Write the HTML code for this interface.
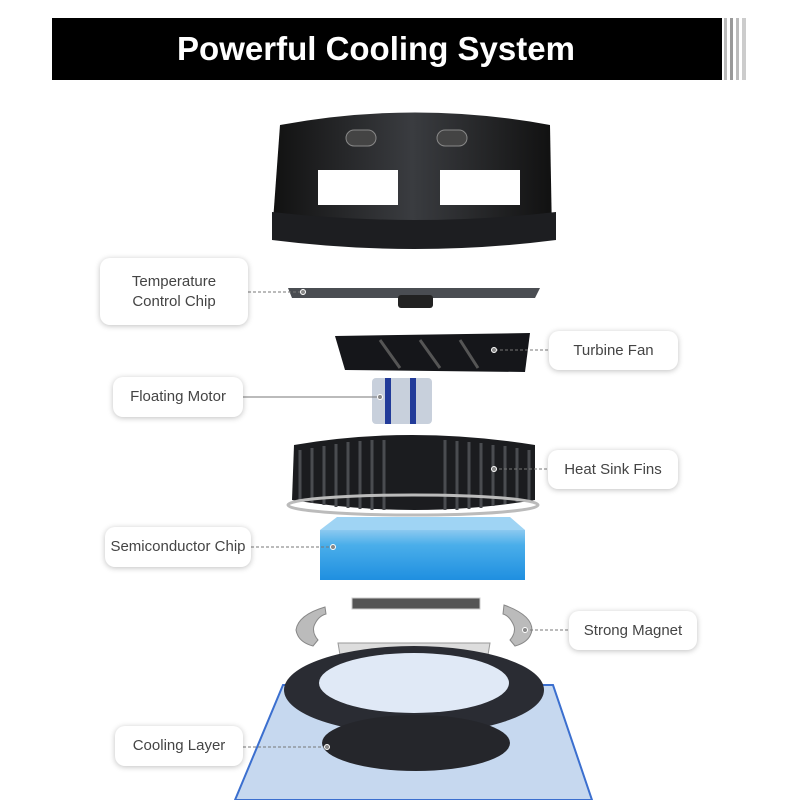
<!DOCTYPE html>
<html><head><style>
body{margin:0;width:800px;height:800px;background:#fff;position:relative;overflow:hidden;font-family:"Liberation Sans",sans-serif}
.lab{position:absolute;background:#fff;border-radius:10px;box-shadow:0 1px 6px rgba(0,0,0,.25);color:#444;font-size:15px;display:flex;align-items:center;justify-content:center;text-align:center;line-height:20px}
</style></head><body>
<div style="position:absolute;left:52px;top:18px;width:670px;height:62px;background:#000;"></div>
<div style="position:absolute;left:52px;top:18px;width:648px;height:62px;color:#fff;font-weight:bold;font-size:33px;display:flex;align-items:center;justify-content:center;">Powerful Cooling System</div>
<div style="position:absolute;left:724px;top:18px;width:3px;height:62px;background:#bbb"></div>
<div style="position:absolute;left:730px;top:18px;width:3px;height:62px;background:#999"></div>
<div style="position:absolute;left:736px;top:18px;width:3px;height:62px;background:#bbb"></div>
<div style="position:absolute;left:742px;top:18px;width:4px;height:62px;background:#ccc"></div>
<svg width="800" height="800" style="position:absolute;left:0;top:0">
<defs>
<linearGradient id="dk" x1="0" x2="1"><stop offset="0" stop-color="#111"/><stop offset=".5" stop-color="#3a3c40"/><stop offset="1" stop-color="#111"/></linearGradient>
<linearGradient id="bl" x1="0" y1="0" x2="0" y2="1"><stop offset="0" stop-color="#8cc9f0"/><stop offset=".3" stop-color="#4aaeea"/><stop offset="1" stop-color="#1f8fe0"/></linearGradient>
</defs>
<!-- housing -->
<path d="M280 125 Q415 100 550 125 L552 235 Q415 255 272 235 Z" fill="url(#dk)"/>
<rect x="318" y="170" width="80" height="35" fill="#fff"/>
<rect x="440" y="170" width="80" height="35" fill="#fff"/>
<rect x="346" y="130" width="30" height="16" rx="8" fill="#444" stroke="#888"/>
<rect x="437" y="130" width="30" height="16" rx="8" fill="#444" stroke="#888"/>
<path d="M272 212 Q415 228 556 212 L556 240 Q415 258 272 240 Z" fill="#1d1e21"/>
<!-- chip plate -->
<path d="M288 288 L540 288 L535 298 L292 298 Z" fill="#4a4d52"/>
<rect x="398" y="295" width="35" height="13" rx="3" fill="#222"/>
<!-- turbine -->
<path d="M335 336 L530 333 L525 372 L345 370 Z" fill="#15161a"/>
<path d="M380 340 L400 368 M420 340 L440 368 M460 340 L478 368" stroke="#555" stroke-width="3"/>
<!-- motor -->
<rect x="372" y="378" width="60" height="46" rx="4" fill="#c8d0dc"/>
<rect x="385" y="378" width="6" height="46" fill="#223b99"/><rect x="410" y="378" width="6" height="46" fill="#223b99"/>
<!-- heatsink -->
<path d="M294 445 Q410 425 535 445 L535 500 Q415 520 292 500 Z" fill="#1b1c1f"/>
<path d="M300 450 V500 M312 448 V503 M324 446 V505 M336 444 V507 M348 442 V508 M360 441 V509 M372 440 V510 M384 440 V510 M445 440 V510 M457 441 V510 M469 442 V509 M481 443 V508 M493 445 V506 M505 446 V504 M517 448 V502 M529 450 V500" stroke="#4a4c50" stroke-width="3"/>
<ellipse cx="413" cy="505" rx="125" ry="10" fill="none" stroke="#bbb" stroke-width="3"/>
<!-- semiconductor -->
<path d="M337 517 L510 517 L525 530 L320 530 Z" fill="#9fd4f4"/>
<rect x="320" y="530" width="205" height="50" fill="url(#bl)"/>
<!-- magnets -->
<rect x="352" y="598" width="128" height="11" fill="#555" stroke="#ccc"/>
<path d="M325 607 Q298 615 296 630 Q298 642 313 646 L318 640 Q312 633 314 626 Q318 616 326 614 Z" fill="#bbb" stroke="#888"/>
<path d="M504 605 Q532 615 532 630 Q530 642 515 646 L510 640 Q516 633 514 626 Q510 616 503 614 Z" fill="#bbb" stroke="#888"/>
<path d="M338 643 L490 643 L488 655 L340 655 Z" fill="#ddd" stroke="#999"/>
<!-- phone -->
<path d="M283 685 L553 685 L592 800 L235 800 Z" fill="#c6d8ef" stroke="#3b6fcf" stroke-width="2"/>
<ellipse cx="414" cy="690" rx="130" ry="44" fill="#2a2c33"/>
<ellipse cx="414" cy="683" rx="95" ry="30" fill="#e0e9f6"/>
<ellipse cx="416" cy="743" rx="94" ry="28" fill="#25262b"/>
<!-- connectors -->
<g stroke="#777" stroke-width="1" stroke-dasharray="3,2" fill="none">
<line x1="248" y1="292" x2="302" y2="292"/>
<line x1="495" y1="350" x2="549" y2="350"/>
<line x1="243" y1="397" x2="380" y2="397" stroke-dasharray="none"/>
<line x1="494" y1="469" x2="548" y2="469"/>
<line x1="251" y1="547" x2="333" y2="547"/>
<line x1="525" y1="630" x2="569" y2="630"/>
<line x1="243" y1="747" x2="327" y2="747"/>
</g>
<g fill="#888" stroke="#fff"><circle cx="303" cy="292" r="2.5"/><circle cx="494" cy="350" r="2.5"/><circle cx="380" cy="397" r="2.5"/><circle cx="494" cy="469" r="2.5"/><circle cx="333" cy="547" r="2.5"/><circle cx="525" cy="630" r="2.5"/><circle cx="327" cy="747" r="2.5"/></g>
</svg>
<div class="lab" style="left:100px;top:258px;width:148px;height:67px">Temperature<br>Control Chip</div>
<div class="lab" style="left:549px;top:331px;width:129px;height:39px">Turbine Fan</div>
<div class="lab" style="left:113px;top:377px;width:130px;height:40px">Floating Motor</div>
<div class="lab" style="left:548px;top:450px;width:130px;height:39px">Heat Sink Fins</div>
<div class="lab" style="left:105px;top:527px;width:146px;height:40px">Semiconductor Chip</div>
<div class="lab" style="left:569px;top:611px;width:128px;height:39px">Strong Magnet</div>
<div class="lab" style="left:115px;top:726px;width:128px;height:40px">Cooling Layer</div>
</body></html>
